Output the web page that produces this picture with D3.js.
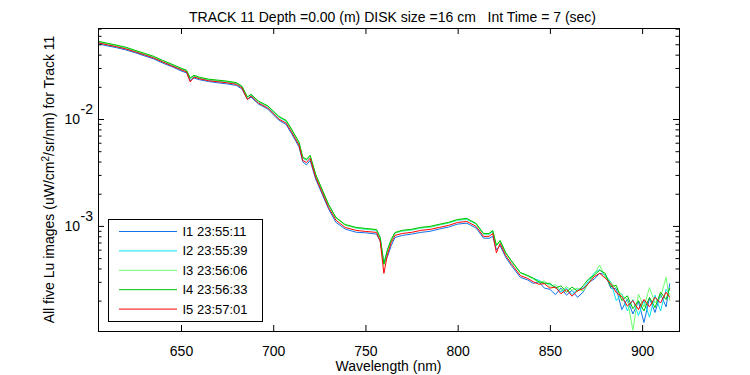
<!DOCTYPE html>
<html><head><meta charset="utf-8">
<script src="https://cdn.jsdelivr.net/npm/d3@7"></script>
<style>
body{margin:0;background:#fff;}
svg{display:block;font-family:"Liberation Sans",Arial,Helvetica,sans-serif;}
</style></head><body>
<svg id="c" width="750" height="375"></svg>
<script>
// wavelengths (nm)
const wavelengths = [
605,610,615,620,625,630,635,640,645,650,
653,655,657,660,665,670,675,680,683,686,
688,692,697,703,707,710,714,716,718,720,
723,726,730,734,739,745,750,756,758,760,
762,764,766,770,775,780,785,790,795,800,
805,810,814,817,819,821,823,826,829,834,
838,
841,844,847,850,853,856,859,862,865,868,
871,874,877,880,883,886,889,892,895,898,
901,904,907,910,913,915];

// Lu values in units of 1e-3 uW/cm^2/sr/nm
const valueUnit = 1e-3;
const I1 = [
50.6,48.3,46.5,44.3,41.8,39.0,36.6,33.4,30.9,28.2,
27.0,22.9,24.2,23.3,22.4,21.8,21.3,20.6,19.1,15.3,
16.0,13.8,12.4,9.75,8.88,7.25,5.48,3.98,3.72,4.10,
2.74,2.08,1.44,1.08,0.935,0.872,0.862,0.838,0.720,0.440,
0.520,0.655,0.780,0.815,0.838,0.870,0.890,0.935,0.975,1.040,
1.060,0.955,0.770,0.765,0.800,0.600,0.655,0.510,0.428,0.330,
0.312,
0.290,0.300,0.262,0.255,0.228,0.262,0.225,0.250,0.215,0.240,
0.296,0.318,0.360,0.350,0.262,0.258,0.165,0.208,0.150,0.196,
0.125,0.210,0.155,0.230,0.175,0.290];
const I2 = [
52.1,49.9,47.5,45.9,42.9,40.2,37.8,34.5,31.9,29.2,
27.9,23.8,25.1,24.1,23.2,22.6,22.2,21.5,20.0,15.9,
16.8,14.5,13.1,10.4,9.52,7.85,5.95,4.30,4.12,4.48,
2.98,2.26,1.57,1.19,1.02,0.955,0.930,0.910,0.780,0.452,
0.600,0.740,0.860,0.895,0.915,0.955,0.975,1.020,1.065,1.130,
1.150,1.040,0.840,0.835,0.885,0.655,0.720,0.560,0.470,0.365,
0.340,
0.322,0.310,0.290,0.285,0.270,0.240,0.262,0.228,0.255,0.262,
0.305,0.362,0.390,0.345,0.300,0.200,0.232,0.160,0.205,0.145,
0.200,0.140,0.225,0.160,0.255,0.230];
const I3 = [
52.9,50.7,48.6,46.5,43.6,40.9,38.3,35.1,32.3,29.6,
28.3,24.0,25.4,24.4,23.4,22.9,22.4,21.7,20.2,16.0,
16.9,14.6,13.2,10.5,9.62,7.92,6.00,4.35,4.15,4.52,
3.02,2.28,1.58,1.19,1.02,0.958,0.938,0.918,0.772,0.430,
0.598,0.740,0.860,0.900,0.920,0.960,0.980,1.025,1.070,1.140,
1.165,1.045,0.842,0.842,0.900,0.650,0.725,0.560,0.470,0.363,
0.340,
0.318,0.296,0.305,0.272,0.282,0.248,0.270,0.250,0.262,0.245,
0.292,0.352,0.430,0.330,0.296,0.262,0.225,0.205,0.106,0.230,
0.175,0.265,0.190,0.215,0.330,0.200];
const I4 = [
53.4,51.2,49.1,47.0,44.0,41.3,38.7,35.4,32.6,29.9,
28.6,24.2,25.7,24.6,23.6,23.1,22.6,21.9,20.3,16.1,
17.0,14.7,13.3,10.6,9.72,8.02,6.06,4.40,4.20,4.58,
3.04,2.30,1.59,1.20,1.03,0.968,0.948,0.925,0.780,0.440,
0.605,0.748,0.868,0.910,0.930,0.970,0.990,1.035,1.080,1.150,
1.175,1.055,0.850,0.850,0.905,0.658,0.732,0.565,0.476,0.366,
0.344,
0.325,0.300,0.292,0.290,0.262,0.275,0.240,0.268,0.245,0.275,
0.320,0.345,0.385,0.360,0.270,0.278,0.200,0.222,0.168,0.200,
0.160,0.215,0.172,0.240,0.205,0.262];
const I5 = [
51.7,49.4,47.4,45.3,42.5,39.9,37.3,34.2,31.4,28.9,
27.6,22.2,24.7,23.8,22.8,22.3,21.8,21.1,19.6,15.2,
16.4,14.1,12.7,10.0,9.15,7.52,5.68,4.10,3.92,4.30,
2.84,2.16,1.49,1.13,0.968,0.908,0.888,0.870,0.720,0.360,
0.548,0.700,0.815,0.850,0.870,0.908,0.928,0.968,1.010,1.078,
1.100,0.990,0.798,0.798,0.850,0.560,0.685,0.530,0.445,0.343,
0.322,
0.300,0.285,0.288,0.262,0.268,0.232,0.255,0.220,0.248,0.258,
0.290,0.335,0.360,0.325,0.288,0.238,0.218,0.178,0.200,0.165,
0.205,0.175,0.215,0.190,0.240,0.215];

const seriesNames = ["I1 23:55:11","I2 23:55:39","I3 23:56:06","I4 23:56:33","I5 23:57:01"];
const seriesColors = ["#0f72e6","#00e4f5","#6cff6c","#00c400","#ff0000"];
const seriesValues = [I1, I2, I3, I4, I5];

const xTicks = [650,700,750,800,850,900];
const xDomain = [605, 920];
const yDomain = [1.04e-4, 0.071];
const yMajorTicks = [1e-3, 1e-2];
const yTickExponents = ["-3", "-2"];

const titleText = "TRACK 11 Depth =0.00 (m) DISK size =16 cm   Int Time = 7 (sec)";
const xLabelText = "Wavelength (nm)";

const svg = d3.select("#c");
const L = 98, R = 679, T = 28, B = 331;
const FS = 14;
const LFS = 13;

const x = d3.scaleLinear().domain(xDomain).range([L, R]);
const y = d3.scaleLog().domain(yDomain).range([B, T]);

svg.append("defs").append("clipPath").attr("id","clip")
  .append("rect").attr("x",L).attr("y",T).attr("width",R-L+1).attr("height",B-T+1);

// data lines
const line = d3.line().x(d => x(d[0])).y(d => y(d[1] * valueUnit));
const plot = svg.append("g").attr("clip-path","url(#clip)");
seriesValues.forEach((vals, i) => {
  plot.append("path")
    .datum(wavelengths.map((w, j) => [w, vals[j]]))
    .attr("d", line)
    .attr("fill","none")
    .attr("stroke", seriesColors[i])
    .attr("stroke-width", 1)
    .attr("stroke-linejoin","miter");
});

// box
svg.append("rect").attr("x",L+0.5).attr("y",T+0.5).attr("width",R-L).attr("height",B-T)
  .attr("fill","none").attr("stroke","#000").attr("stroke-width",1);

// x axes (inward ticks)
const xb = svg.append("g").attr("transform",`translate(0,${B})`)
  .call(d3.axisBottom(x).tickValues(xTicks).tickSizeInner(-6).tickSizeOuter(0).tickFormat(d3.format("d")));
xb.select(".domain").remove();
xb.attr("font-family", null).attr("font-size", FS);
xb.selectAll("text").attr("y", 25).attr("dy", null).attr("fill","#000");
xb.selectAll("line").attr("stroke","#000");

const xt = svg.append("g").attr("transform",`translate(0,${T})`)
  .call(d3.axisTop(x).tickValues(xTicks).tickSizeInner(-6).tickSizeOuter(0).tickFormat(""));
xt.select(".domain").remove();
xt.selectAll("line").attr("stroke","#000");

// y minor ticks
const minorTicks = [];
for (let e = -4; e <= -2; e++) for (let m = 2; m <= 9; m++) {
  const v = m * Math.pow(10, e);
  if (v >= yDomain[0] && v <= yDomain[1]) minorTicks.push(v);
}
const yl = svg.append("g").attr("transform",`translate(${L},0)`)
  .call(d3.axisLeft(y).tickValues(minorTicks).tickSizeInner(-3.5).tickSizeOuter(0).tickFormat(""));
yl.select(".domain").remove();
const yr = svg.append("g").attr("transform",`translate(${R},0)`)
  .call(d3.axisRight(y).tickValues(minorTicks).tickSizeInner(-3.5).tickSizeOuter(0).tickFormat(""));
yr.select(".domain").remove();
const ylM = svg.append("g").attr("transform",`translate(${L},0)`)
  .call(d3.axisLeft(y).tickValues(yMajorTicks).tickSizeInner(-6).tickSizeOuter(0).tickFormat(""));
ylM.select(".domain").remove();
const yrM = svg.append("g").attr("transform",`translate(${R},0)`)
  .call(d3.axisRight(y).tickValues(yMajorTicks).tickSizeInner(-6).tickSizeOuter(0).tickFormat(""));
yrM.select(".domain").remove();
svg.selectAll(".tick line").attr("stroke","#000");

// y tick labels 10^k
yMajorTicks.forEach((v, i) => {
  const yy = y(v);
  svg.append("text").attr("x", 80).attr("y", yy + 5).attr("text-anchor","end")
    .attr("font-size", FS).text("10");
  svg.append("text").attr("x", 80.5).attr("y", yy - 5).attr("text-anchor","start")
    .attr("font-size", FS).text(yTickExponents[i]);
});

// title
svg.append("text").attr("x", (L+R)/2 + 4).attr("y", 22).attr("text-anchor","middle")
  .attr("font-size", FS).style("white-space","pre").text(titleText);

// x label
svg.append("text").attr("x", (L+R)/2).attr("y", 371).attr("text-anchor","middle")
  .attr("font-size", FS).text(xLabelText);

// y label
const ylab = svg.append("text").attr("transform",`translate(54,${(T+B)/2}) rotate(-90)`)
  .attr("text-anchor","middle").attr("font-size", FS);
ylab.append("tspan").text("All five Lu images (uW/cm");
ylab.append("tspan").attr("dy",-5).attr("font-size", 10).text("2");
ylab.append("tspan").attr("dy",5).text("/sr/nm) for Track 11");

// legend
const lg = svg.append("g");
lg.append("rect").attr("x",108.5).attr("y",219.5).attr("width",154).attr("height",102)
  .attr("fill","#fff").attr("stroke","#000");
seriesNames.forEach((n, i) => {
  const cy = 231.5 + i * 19.4;
  lg.append("line").attr("x1",119).attr("x2",177).attr("y1",cy).attr("y2",cy)
    .attr("stroke", seriesColors[i]).attr("stroke-width",1);
  lg.append("text").attr("x",182.5).attr("y",cy+4.5).attr("font-size",LFS).text(n);
});
</script>
</body></html>
